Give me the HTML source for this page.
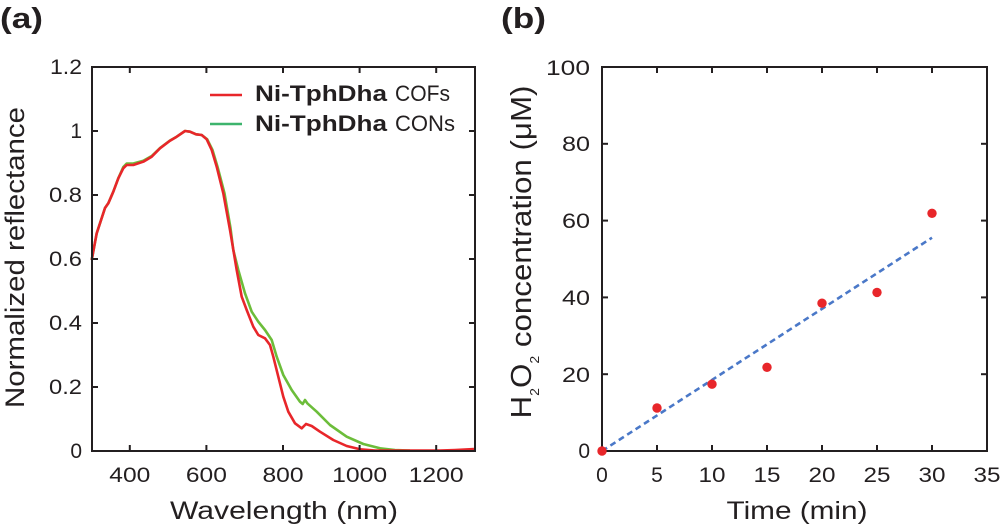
<!DOCTYPE html>
<html>
<head>
<meta charset="utf-8">
<style>
html,body{margin:0;padding:0;background:#fff;}
svg{display:block;}
text{font-family:"Liberation Sans",Arial,sans-serif;fill:#231f20;}
</style>
</head>
<body>
<svg width="1000" height="528" viewBox="0 0 1000 528" xmlns="http://www.w3.org/2000/svg">
<rect width="1000" height="528" fill="#fff"/>

<!-- ========== Panel (a) ========== -->
<text x="0" y="28" font-size="29" font-weight="bold" textLength="43" lengthAdjust="spacingAndGlyphs">(a)</text>

<!-- curves -->
<polyline fill="none" stroke="#6cbd3a" stroke-width="2.6" stroke-linejoin="round" points="
91.7,260 96.7,233.3 105,208 108.3,203.3 113.3,191.7 118.3,178.3 123.3,167 126.7,163.5 133.3,163.5 143.3,160.7 151.7,156 160,148 170,140.5 176.7,136.7 185,131 190,131.7 196,134.3 201.7,135 207.2,139.3 212.5,150 217.5,166.7 224.5,193.3 230.5,228 233.3,250 238.3,270 245,293.3 251.7,311.7 258.3,321.7 265,330 271.7,340 276.7,356.7 283.3,375 291.7,390 300,401.7 302.7,404 305,400 307.3,403.3 316.7,411.7 330,425 346.7,436.7 363.3,444 380,448.3 395,450 410,450.5"/>
<polyline fill="none" stroke="#e8262a" stroke-width="2.6" stroke-linejoin="round" points="
91.7,260 96.7,233.3 105,208 108.3,203.3 113.3,191.7 118.3,178.3 123.3,168.3 126.7,165 133.3,165 143.3,161.7 151.7,156.7 160,148.3 170,140.7 176.7,136.7 185,131 190,131.7 196,134.3 201.7,135 206.7,139.3 211.7,150 216.7,166.7 223.3,193.3 230,230 236.7,270 241.7,296.7 246.7,310 253.3,326.7 258.3,335 265,338.3 270,345 273.3,356.7 278.3,376.7 283.3,396.7 288.3,411.7 295,423.3 301.7,428.3 306,424 311.7,426 320,431.7 333.3,440 346.7,446 360,449.3 375,450.5 440,450.5 455,450 474,449"/>

<!-- frame -->
<rect x="92" y="67" width="383" height="384" fill="none" stroke="#231f20" stroke-width="2"/>
<g stroke="#231f20" stroke-width="2">
  <!-- x ticks bottom/top -->
  <line x1="129.8" y1="451" x2="129.8" y2="445"/><line x1="129.8" y1="67" x2="129.8" y2="73"/>
  <line x1="206.4" y1="451" x2="206.4" y2="445"/><line x1="206.4" y1="67" x2="206.4" y2="73"/>
  <line x1="283" y1="451" x2="283" y2="445"/><line x1="283" y1="67" x2="283" y2="73"/>
  <line x1="359.6" y1="451" x2="359.6" y2="445"/><line x1="359.6" y1="67" x2="359.6" y2="73"/>
  <line x1="436.2" y1="451" x2="436.2" y2="445"/><line x1="436.2" y1="67" x2="436.2" y2="73"/>
  <!-- y ticks left/right -->
  <line x1="92" y1="131" x2="98" y2="131"/><line x1="475" y1="131" x2="469" y2="131"/>
  <line x1="92" y1="195" x2="98" y2="195"/><line x1="475" y1="195" x2="469" y2="195"/>
  <line x1="92" y1="259" x2="98" y2="259"/><line x1="475" y1="259" x2="469" y2="259"/>
  <line x1="92" y1="323" x2="98" y2="323"/><line x1="475" y1="323" x2="469" y2="323"/>
  <line x1="92" y1="387" x2="98" y2="387"/><line x1="475" y1="387" x2="469" y2="387"/>
</g>

<!-- y tick labels -->
<g font-size="21" text-anchor="end">
  <text x="82" y="74" textLength="32" lengthAdjust="spacingAndGlyphs">1.2</text>
  <text x="82" y="138">1</text>
  <text x="82" y="202" textLength="33" lengthAdjust="spacingAndGlyphs">0.8</text>
  <text x="82" y="266" textLength="33" lengthAdjust="spacingAndGlyphs">0.6</text>
  <text x="82" y="330" textLength="33" lengthAdjust="spacingAndGlyphs">0.4</text>
  <text x="82" y="394" textLength="33" lengthAdjust="spacingAndGlyphs">0.2</text>
  <text x="82" y="458">0</text>
</g>
<!-- x tick labels -->
<g font-size="21" text-anchor="middle">
  <text x="129.8" y="482" textLength="41" lengthAdjust="spacingAndGlyphs">400</text>
  <text x="206.4" y="482" textLength="41" lengthAdjust="spacingAndGlyphs">600</text>
  <text x="283" y="482" textLength="41" lengthAdjust="spacingAndGlyphs">800</text>
  <text x="359.6" y="482" textLength="55" lengthAdjust="spacingAndGlyphs">1000</text>
  <text x="436.2" y="482" textLength="55" lengthAdjust="spacingAndGlyphs">1200</text>
</g>

<text x="284" y="519" font-size="25" text-anchor="middle" textLength="228" lengthAdjust="spacingAndGlyphs">Wavelength (nm)</text>
<text transform="translate(24,257.5) rotate(-90)" font-size="27" text-anchor="middle" textLength="301" lengthAdjust="spacingAndGlyphs">Normalized reflectance</text>

<!-- legend -->
<line x1="210" y1="95" x2="242" y2="95" stroke="#e8262a" stroke-width="2.6"/>
<line x1="210" y1="124" x2="242" y2="124" stroke="#3db46d" stroke-width="2.6"/>
<text x="255" y="101" font-size="22" font-weight="bold" textLength="132" lengthAdjust="spacingAndGlyphs">Ni-TphDha</text>
<text x="395" y="101" font-size="22" textLength="55" lengthAdjust="spacingAndGlyphs">COFs</text>
<text x="255" y="131" font-size="22" font-weight="bold" textLength="132" lengthAdjust="spacingAndGlyphs">Ni-TphDha</text>
<text x="395" y="131" font-size="22" textLength="60" lengthAdjust="spacingAndGlyphs">CONs</text>

<!-- ========== Panel (b) ========== -->
<text x="501" y="28" font-size="29" font-weight="bold" textLength="45" lengthAdjust="spacingAndGlyphs">(b)</text>

<rect x="602" y="67" width="385" height="384" fill="none" stroke="#231f20" stroke-width="2"/>
<g stroke="#231f20" stroke-width="2">
  <line x1="657" y1="451" x2="657" y2="445"/><line x1="657" y1="67" x2="657" y2="73"/>
  <line x1="712" y1="451" x2="712" y2="445"/><line x1="712" y1="67" x2="712" y2="73"/>
  <line x1="767" y1="451" x2="767" y2="445"/><line x1="767" y1="67" x2="767" y2="73"/>
  <line x1="822" y1="451" x2="822" y2="445"/><line x1="822" y1="67" x2="822" y2="73"/>
  <line x1="877" y1="451" x2="877" y2="445"/><line x1="877" y1="67" x2="877" y2="73"/>
  <line x1="932" y1="451" x2="932" y2="445"/><line x1="932" y1="67" x2="932" y2="73"/>
  <line x1="602" y1="374.2" x2="608" y2="374.2"/><line x1="987" y1="374.2" x2="981" y2="374.2"/>
  <line x1="602" y1="297.4" x2="608" y2="297.4"/><line x1="987" y1="297.4" x2="981" y2="297.4"/>
  <line x1="602" y1="220.6" x2="608" y2="220.6"/><line x1="987" y1="220.6" x2="981" y2="220.6"/>
  <line x1="602" y1="143.8" x2="608" y2="143.8"/><line x1="987" y1="143.8" x2="981" y2="143.8"/>
</g>

<!-- fit line -->
<line x1="602" y1="451" x2="932" y2="237.7" stroke="#4a78c8" stroke-width="2.6" stroke-dasharray="6,4"/>

<!-- data points -->
<g fill="#e8262a">
  <circle cx="602" cy="451" r="4.7"/>
  <circle cx="657" cy="408" r="4.7"/>
  <circle cx="712" cy="384.2" r="4.7"/>
  <circle cx="767" cy="367.3" r="4.7"/>
  <circle cx="822" cy="303.2" r="4.7"/>
  <circle cx="877" cy="292.4" r="4.7"/>
  <circle cx="932" cy="213.3" r="4.7"/>
</g>

<!-- y tick labels -->
<g font-size="21" text-anchor="end">
  <text x="590" y="75" textLength="44" lengthAdjust="spacingAndGlyphs">100</text>
  <text x="590" y="151" textLength="28" lengthAdjust="spacingAndGlyphs">80</text>
  <text x="590" y="228" textLength="28" lengthAdjust="spacingAndGlyphs">60</text>
  <text x="590" y="305" textLength="28" lengthAdjust="spacingAndGlyphs">40</text>
  <text x="590" y="382" textLength="28" lengthAdjust="spacingAndGlyphs">20</text>
  <text x="590" y="458">0</text>
</g>
<!-- x tick labels -->
<g font-size="21" text-anchor="middle">
  <text x="602" y="482">0</text>
  <text x="657" y="482">5</text>
  <text x="712" y="482" textLength="27" lengthAdjust="spacingAndGlyphs">10</text>
  <text x="767" y="482" textLength="27" lengthAdjust="spacingAndGlyphs">15</text>
  <text x="822" y="482" textLength="27" lengthAdjust="spacingAndGlyphs">20</text>
  <text x="877" y="482" textLength="27" lengthAdjust="spacingAndGlyphs">25</text>
  <text x="932" y="482" textLength="27" lengthAdjust="spacingAndGlyphs">30</text>
  <text x="987" y="482" textLength="27" lengthAdjust="spacingAndGlyphs">35</text>
</g>

<text x="797" y="519" font-size="25" text-anchor="middle" textLength="141" lengthAdjust="spacingAndGlyphs">Time (min)</text>
<text transform="translate(531,252) rotate(-90) scale(1.08,1)" font-size="29" text-anchor="middle">H<tspan font-size="13" dy="8">2</tspan><tspan dy="-8">O</tspan><tspan font-size="13" dy="8">2</tspan><tspan dy="-8"> concentration (μM)</tspan></text>

</svg>
</body>
</html>
